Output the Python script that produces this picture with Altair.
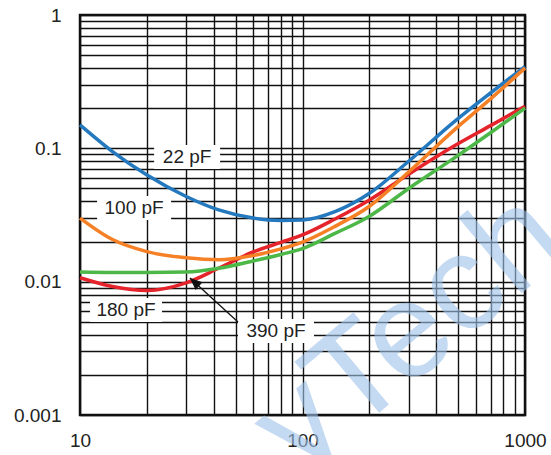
import altair as alt
import pandas as pd

# Frequency points (MHz) shared by the four curves
freq = [10, 14, 20, 30, 42, 60, 80, 100, 140, 200, 300, 480, 700, 1000]

# Insertion characteristic for each capacitance value
val_22pf = [0.150, 0.0946, 0.063, 0.0435, 0.0345, 0.0300, 0.0288, 0.0290, 0.0335, 0.0460, 0.080, 0.158, 0.260, 0.41]
val_100pf = [0.030, 0.0207, 0.0168, 0.0151, 0.0146, 0.0157, 0.0176, 0.0198, 0.0260, 0.0368, 0.0665, 0.137, 0.235, 0.40]
val_180pf = [0.0107, 0.0092, 0.0086, 0.0098, 0.0126, 0.0167, 0.0197, 0.0224, 0.0295, 0.041, 0.064, 0.104, 0.148, 0.207]
val_390pf = [0.0118, 0.0117, 0.0117, 0.0118, 0.0126, 0.0143, 0.0160, 0.0177, 0.0230, 0.0310, 0.0500, 0.0845, 0.131, 0.20]

series_names = ["22 pF", "180 pF", "390 pF", "100 pF"]
series_values = [val_22pf, val_180pf, val_390pf, val_100pf]
series_colors = ["#2478BE", "#E5232A", "#4DB848", "#F58025"]

# Curve labels (text, frequency, value, box width)
label_text = ["22 pF", "100 pF", "180 pF", "390 pF"]
label_freq = [30.3, 17.5, 16.1, 76]
label_val = [0.0861, 0.0357, 0.00613, 0.00427]
label_box_w = [66, 74, 72, 76]

# Leader arrow for the 390 pF label
arrow_tail = (51.3, 0.00498)
arrow_tip = (31.2, 0.01066)

# Grid lines at every 1..9 multiple of each decade
x_grid = [m * d for d in (10, 100) for m in range(1, 10)] + [1000]
y_grid = [round(m * d, 4) for d in (0.001, 0.01, 0.1) for m in range(1, 10)] + [1]
x_labels = [10, 100, 1000]
y_labels = [0.001, 0.01, 0.1, 1]

FONT = "Liberation Sans"
TEXT_COLOR = "#222222"

rows = []
for name, vals in zip(series_names, series_values):
    for f, v in zip(freq, vals):
        rows.append({"f": f, "v": v, "series": name})
curves = pd.DataFrame(rows)

labels = pd.DataFrame({"text": label_text, "f": label_freq, "v": label_val, "w": label_box_w})

x_scale = alt.Scale(type="log", domain=[10, 1000], nice=False)
y_scale = alt.Scale(type="log", domain=[0.001, 1], nice=False)

x_axis = alt.Axis(
    values=x_grid,
    labelExpr="indexof(%s, datum.value) >= 0 ? '' + datum.value : ''" % x_labels,
    grid=True, gridColor="#111111", gridWidth=1.4,
    ticks=False, domain=False, title=None,
    labelFont=FONT, labelFontSize=19, labelColor=TEXT_COLOR,
    labelPadding=16, labelOverlap=False, labelFlush=False,
)
y_axis = alt.Axis(
    values=y_grid,
    labelExpr="indexof(%s, datum.value) >= 0 ? '' + datum.value : ''" % y_labels,
    grid=True, gridColor="#111111", gridWidth=1.4,
    ticks=False, domain=False, title=None,
    labelFont=FONT, labelFontSize=19, labelColor=TEXT_COLOR,
    labelPadding=19, labelOverlap=False, labelFlush=False,
)

lines = alt.Chart(curves).mark_line(strokeWidth=3.5, interpolate="monotone").encode(
    x=alt.X("f:Q", scale=x_scale, axis=x_axis),
    y=alt.Y("v:Q", scale=y_scale, axis=y_axis),
    color=alt.Color("series:N", scale=alt.Scale(domain=series_names, range=series_colors), legend=None),
    order=alt.Order("f:Q"),
    detail="series:N",
)

# white boxes behind the curve labels, one width per label
box_layers = [
    alt.Chart(labels.iloc[[i]]).mark_rect(color="white", width=w, height=24).encode(
        x=alt.X("f:Q", scale=x_scale),
        y=alt.Y("v:Q", scale=y_scale),
    )
    for i, w in enumerate(label_box_w)
]

texts = alt.Chart(labels).mark_text(font=FONT, fontSize=19, color=TEXT_COLOR).encode(
    x=alt.X("f:Q", scale=x_scale),
    y=alt.Y("v:Q", scale=y_scale),
    text="text:N",
)

arrow_df = pd.DataFrame({"f": [arrow_tail[0]], "v": [arrow_tail[1]], "f2": [arrow_tip[0]], "v2": [arrow_tip[1]]})
arrow_line = alt.Chart(arrow_df).mark_rule(color="#111111", strokeWidth=1.3).encode(
    x=alt.X("f:Q", scale=x_scale), y=alt.Y("v:Q", scale=y_scale),
    x2="f2:Q", y2="v2:Q",
)
arrow_head = alt.Chart(arrow_df).mark_point(
    shape="M0,0L-0.42,1L0.42,1Z", filled=True, color="#111111", opacity=1, size=600, angle=312,
).encode(
    x=alt.X("f2:Q", scale=x_scale), y=alt.Y("v2:Q", scale=y_scale),
)

watermark = alt.Chart(pd.DataFrame({"t": ["yTech"], "f": [304], "v": [0.0041]})).mark_text(
    font=FONT, fontSize=136, color="#9EC3EA", opacity=0.6, angle=320,
).encode(
    x=alt.X("f:Q", scale=x_scale), y=alt.Y("v:Q", scale=y_scale), text="t:N",
)

chart = alt.layer(lines, *box_layers, texts, arrow_line, arrow_head, watermark).properties(
    width=445, height=400,
    padding={"left": 80, "top": 15, "right": 26, "bottom": 40},
    autosize="none",
    background="white",
).configure_view(stroke="#111111", strokeWidth=2.5)

chart.save("out.html", embed_options={"renderer": "svg", "actions": False})
